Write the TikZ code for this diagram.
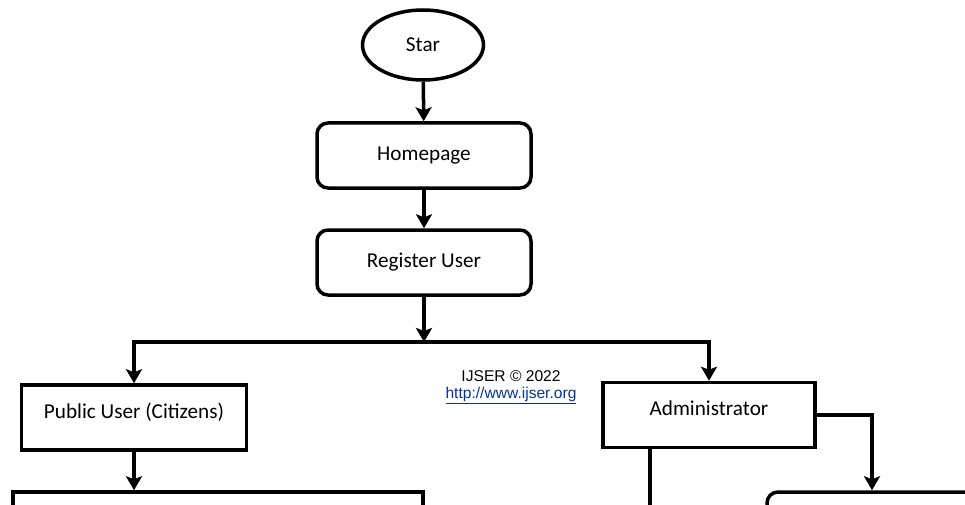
\documentclass[tikz,border=0pt]{standalone}
\usepackage{fontspec}
\setmainfont{Carlito}
\newfontfamily\arialfont{Liberation Sans}
\usetikzlibrary{shapes.geometric,arrows.meta}
\definecolor{linkblue}{RGB}{5,50,160}

\tikzset{
	flow/.style = {draw, line width = 3.5pt, inner sep = 0pt, font = \fontsize{21.2}{24}\selectfont},
	roundbox/.style = {flow, rectangle, rounded corners = 11pt, minimum width = 214pt, minimum height = 65pt},
	sharpbox/.style = {flow, rectangle, minimum height = 65pt, text height = 15pt, text depth = 14pt},
	go/.style = {line width = 3.5pt, -{Stealth[length = 14pt, width = 16pt, inset = 3pt]}},
	wire/.style = {line width = 3.5pt}
}

\begin{document}
\begin{tikzpicture}[x = 1pt, y = -1pt]
	\clip (0,0) rectangle (965,505);

	\node[flow, ellipse, minimum width = 121pt, minimum height = 70pt](star) at (423,45) {Star};
	\node[roundbox](home) at (424,155.5) {Homepage};
	\node[roundbox](reg) at (424,262.5) {Register User};
	\coordinate (bus) at (424,342);
	\node[sharpbox, minimum width = 225pt](pub) at (134,417.5) {Public User (Citizens)};
	\node[sharpbox, minimum width = 212pt](adm) at (709,415) {Administrator};
	\node[flow, rectangle, minimum width = 410pt, minimum height = 90pt](act) at (218,537) {};
	\node[roundbox, minimum width = 210pt, minimum height = 90pt](panel) at (872,537) {};
	\coordinate (cut) at (650,520);

	\node[font = \arialfont\fontsize{15.6}{16.5}\selectfont, align = center](ijser) at (511,387)
		{IJSER \textcopyright{} 2022\\ \textcolor{linkblue}{\underline{http://www.ijser.org}}};

	\draw[go] (star) -- (home);
	\draw[go] (home) -- (reg);
	\draw[go] (reg) -- (bus);
	\draw[go] (bus) -| (pub.north);
	\draw[go] (bus) -| (adm.north);
	\draw[go] (pub) -- (pub |- act.north);
	\draw[go] (adm.east) -| (panel.north);
	\draw[wire] (adm.south -| cut) -- (cut);
\end{tikzpicture}
\end{document}
